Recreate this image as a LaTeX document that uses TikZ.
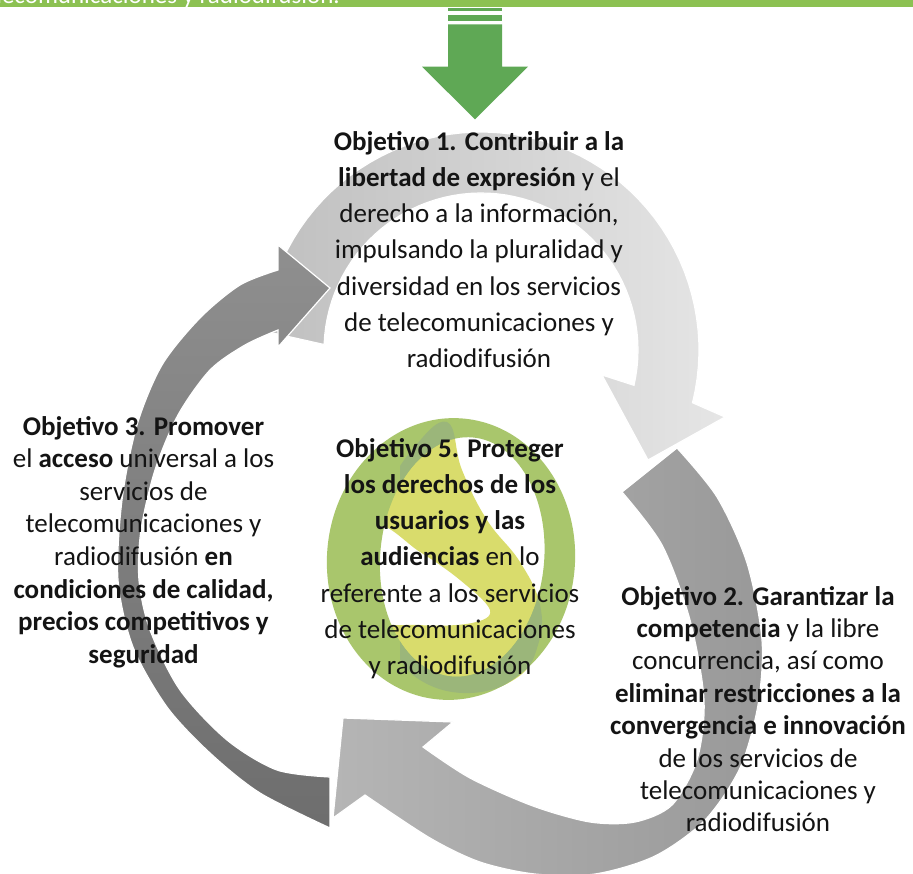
\documentclass[tikz,border=0pt]{standalone}
\usepackage{fontspec}
\setmainfont{Carlito}
\definecolor{barGreen}{HTML}{8CC152}
\definecolor{arrGreen}{HTML}{5FA855}
\definecolor{ringGreen}{HTML}{A9C66C}
\definecolor{ringDark}{HTML}{9BB67A}
\definecolor{ringYellow}{HTML}{D9DC6C}
\definecolor{txt}{HTML}{141414}
\newcommand{\objblock}[2]{\fontsize{27}{#1}\selectfont\begin{tabular}[t]{@{}c@{}}#2\end{tabular}}
\tikzset{
  shape edge/.style={draw=white, line width=1.2pt, line join=miter},
  objtext/.style={anchor=base, inner sep=0pt, text=txt},
}
\begin{document}
\begin{tikzpicture}[x=1pt,y=-1pt]
\useasboundingbox (0,0) rectangle (913,873);
\fill[white] (0,0) rectangle (913,873);

% top (light) circular arrow
\path[shape edge, left color=black!25, right color=black!10]
  plot[domain=185:374, samples=60, variable=\t] ({481+218*cos(\t)},{350+218*sin(\t)})
  -- (725,417) -- (648,460) -- (602,375)
  -- plot[domain=13:-178, samples=60, variable=\t] ({481+157*cos(\t)},{350+157*sin(\t)})
  -- cycle;

% bottom-right arrow
\path[shape edge, left color=black!29, right color=black!40]
  (622,492) -- (677,448)
  -- plot[smooth] coordinates {(677,448) (717,497) (747,563) (762,640) (758,705) (740,768) (705,820) (655,856) (595,874) (535,874) (480,862) (430,838) (365,795)}
  -- (333,818) -- (343,718) -- (453,722) -- (423,747)
  -- plot[smooth] coordinates {(423,747) (470,778) (533,806) (590,822) (635,822) (672,805) (697,760) (704,700) (690,620) (662,545) (622,492)}
  -- cycle;

% left (dark) arrow
\path[shape edge, top color=black!44, bottom color=black!57]
  (330,828)
  -- plot[smooth] coordinates {(330,828) (260,793) (210,753) (167,707) (133,647) (118,580) (122,500) (137,425) (162,365) (200,318) (240,285) (278,270)}
  -- (278,245) -- (330,288) -- (278,347) -- (278,330)
  -- plot[smooth] coordinates {(278,330) (245,345) (210,370) (178,415) (155,470) (141,530) (139,580) (150,630) (180,690) (227,740) (277,770) (330,777)}
  -- cycle;

% central rings
\fill[ringYellow, even odd rule]
  plot[smooth cycle, tension=0.7] coordinates {(447,422) (462,470) (487,520) (520,562) (540,605) (538,645) (518,677) (470,693) (420,680) (392,645) (372,595) (370,545) (385,495) (412,450)}
  plot[smooth cycle, tension=0.6] coordinates {(376,528) (420,552) (460,580) (490,610) (472,623) (420,625) (376,614)};
\fill[ringGreen, even odd rule]
  [rotate around={-5:(451,559)}] (451,559) ellipse [x radius=124, y radius=141]
  (462,556) ellipse [x radius=82, y radius=120];
\begin{scope}
  \clip (400,0) rectangle (913,873);
  \clip plot[smooth cycle, tension=0.7] coordinates {(447,422) (462,470) (487,520) (520,562) (540,605) (538,645) (518,677) (470,693) (420,680) (392,645) (372,595) (370,545) (385,495) (412,450)};
  \fill[ringDark, even odd rule]
    [rotate around={-5:(451,559)}] (451,559) ellipse [x radius=124, y radius=141]
    (462,556) ellipse [x radius=82, y radius=120];
\end{scope}

% texts
\node[objtext] (o1) at (479,150) {\objblock{36.3}{%
\textbf{Objetivo 1. Contribuir a la}\\
\textbf{libertad de expresión} y el\\
derecho a la información,\\
impulsando la pluralidad y\\
diversidad en los servicios\\
de telecomunicaciones y\\
radiodifusión}};

\node[objtext] (o3) at (143.5,435) {\objblock{32.6}{%
\textbf{Objetivo 3. Promover}\\
el \textbf{acceso} universal a los\\
servicios de\\
telecomunicaciones y\\
radiodifusión \textbf{en}\\
\textbf{condiciones de calidad,}\\
\textbf{precios competitivos y}\\
\textbf{seguridad}}};

\node[objtext] (o5) at (450,457) {\objblock{36.3}{%
\textbf{Objetivo 5. Proteger}\\
\textbf{los derechos de los}\\
\textbf{usuarios y las}\\
\textbf{audiencias} en lo\\
referente a los servicios\\
de telecomunicaciones\\
y radiodifusión}};

\node[objtext] (o2) at (758,605) {\objblock{32.4}{%
\textbf{Objetivo 2. Garantizar la}\\
\textbf{competencia} y la libre\\
concurrencia, así como\\
\textbf{eliminar restricciones a la}\\
\textbf{convergencia e innovación}\\
de los servicios de\\
telecomunicaciones y\\
radiodifusión}};

% top bar and green arrow
\begin{scope}
\clip (0,0) rectangle (913,873);
\fill[barGreen] (0,-5) rectangle (913,7);
\node[anchor=base east, inner sep=0pt, text=white, font=\fontsize{25}{28}\selectfont] (bartext) at (340,3) {telecomunicaciones y radiodifusión.};
\end{scope}
\fill[arrGreen] (448,8.3) rectangle (502,11);
\fill[arrGreen] (448,15) rectangle (502,20.7);
\fill[arrGreen] (448,24.3) -- (502,24.3) -- (502,66.7) -- (528,66.7) -- (475,119.3) -- (422,66.7) -- (448,66.7) -- cycle;
\end{tikzpicture}
\end{document}
